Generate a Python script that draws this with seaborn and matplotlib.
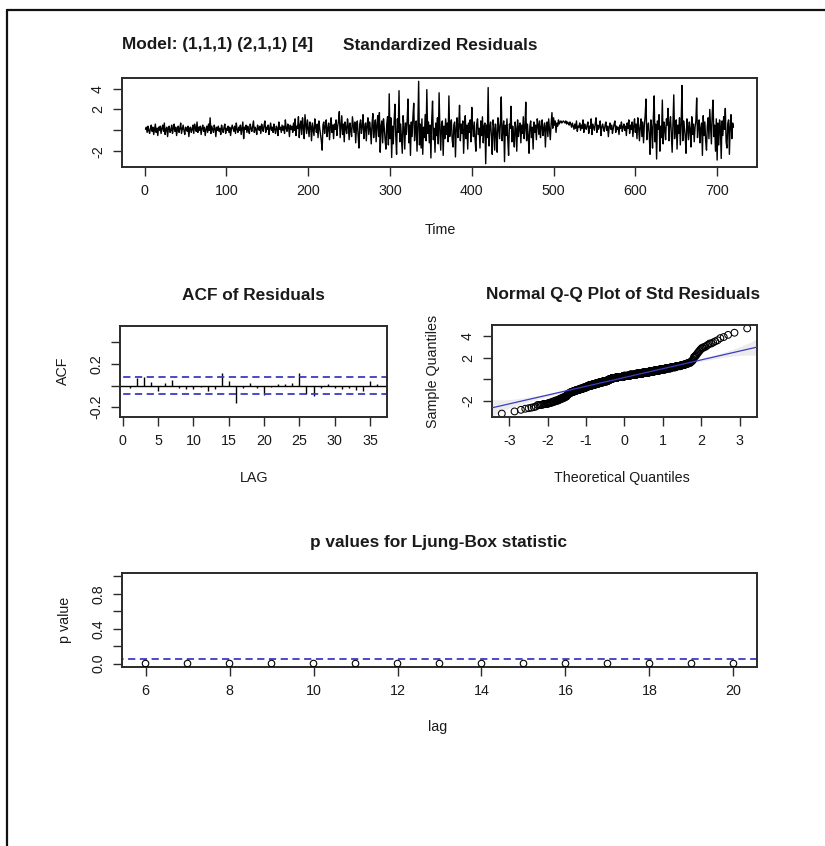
import numpy as np
import pandas as pd
import matplotlib
matplotlib.use("Agg")
import matplotlib.pyplot as plt
import seaborn as sns
from matplotlib.lines import Line2D
from statistics import NormalDist

# ---------------- data ----------------
# standardized residuals, t = 1..720, in five stretches
resid_quiet = [
    0.1, 0.3, -0.2, 0.4, 0.0, -0.3, 0.2, 0.5, -0.1, 0.3, -0.4, 0.1, 0.6, -0.2, 0.2, -0.5, 0.3, 0.0, 0.4, -0.3,
    0.2, 0.5, -0.1, 0.7, -0.4, 0.1, 0.3, -0.6, 0.2, 0.4, -0.2, 0.0, 0.5, -0.3, 0.2, 0.6, -0.1, 0.3, -0.5, 0.1,
    0.4, -0.2, 0.2, 0.7, -0.3, 0.1, 0.5, 0.0, -0.4, 0.3, 0.2, -0.1, 0.4, -0.6, 0.2, 0.3, -0.2, 0.1, 0.5, -0.3,
    0.6, 0.2, -0.1, 0.8, -0.2, 0.3, 0.0, 0.4, -0.4, 0.2, 0.5, -0.1, 0.3, -0.5, 0.1, 0.4, -0.2, 0.6, 0.0, 1.2,
    -0.3, 0.4, 0.1, -0.2, 0.5, 0.2, -0.6, 0.3, 0.0, 0.4, -0.1, 0.2, -0.4, 0.5, 0.1, -0.2, 0.3, 0.6, -0.3, 0.2,
    0.0, 0.4, -0.2, 0.3, -0.5, 0.1, 0.5, 0.2, -0.1, 0.4, -0.3, 0.7, 0.1, -0.2, 0.3, 0.0, 0.5, -0.4, 0.2, 0.8,
    -0.8, 0.3, 0.1, 0.5, -0.2, 0.4, 0.0, -0.3, 0.6, 0.2, -0.1, 0.4, 0.9, -0.2, 0.3, 0.1, -0.4, 0.5, 0.2, 0.0,
    0.4, -0.3, 0.6, 0.2, -0.1, 0.5, 0.9, -0.2, 0.3, 0.1, 0.5, -0.4, 0.2, 0.7, 0.0, 0.3, -0.2, 0.6, 0.1, -0.3,
    0.4, 0.2, -0.5, 0.8, 0.1, 0.3, -0.2, 0.5, 0.0, 0.4, -0.3, 1.0, 0.2, -0.1, 0.6, 0.3, -0.6, 0.5, 0.1, 0.4,
    -0.2, 0.7, 0.0, 1.1, -0.5, 0.4, 0.2, 1.3, -0.7, 0.5,
]
resid_rising = [
    0.9, -0.4, 1.2, 0.3, -0.8, 1.5, 0.6, -0.3, 1.0, 0.2, -0.6, 0.8, 0.4, -1.0, 0.7, 0.1, -0.5, 1.1, 0.3, -0.2,
    0.6, -0.7, 0.9, 0.2, -0.4, -1.0, -1.9, 0.5, 0.8, -0.3, 0.4, 1.0, -0.6, 0.2, 0.7, -0.9, 0.3, 1.2, -0.2, 0.5,
    -0.8, 0.6, 0.1, 1.0, -0.5, 0.4, 0.9, 1.8, -0.7, 0.3, 1.4, -0.4, 0.6, -1.1, 0.8, 0.2, -0.3, 1.1, 0.4, -0.9,
    0.7, 0.0, -0.6, 1.3, 0.5, -0.2, 0.8, -1.2, 0.3, 0.9, -0.5, -1.7, 0.6, 1.0, -0.3, 0.4, 1.5, -0.8, 0.2, 0.7,
    -1.0, 0.5, 1.2, -0.4, 0.8, 0.1, -1.3, 0.6, 1.6, -0.7, 0.3, 1.0, -1.1, 0.5, 1.4, -0.6, 1.7, -2.1, 0.4, 0.9,
    -1.2, 1.1, 0.2, -0.9, -1.8, 0.6, 1.3, -1.4,
]
resid_volatile = [
    3.5, -0.8, 1.2, -2.6, 0.4, -1.3, 0.9, 2.5, -0.5, -2.3, 1.1, -0.2, 3.8, -1.1, 0.6, -0.9, -2.2, 1.4, 0.3, -1.8,
    0.7, -0.4, 1.0, 3.0, -1.2, 0.5, -2.4, 0.8, -0.6, 1.3, 2.6, -1.0, 0.2, 0.9, -2.0, 0.4, 4.7, -1.4, 0.6, -1.7,
    1.1, -2.3, 0.3, -0.7, 1.5, -1.0, 3.9, -0.3, 0.8, -1.2, 0.5, -2.65, 1.0, 2.8, -0.9, 0.2, -2.1, 0.7, -0.5, 1.2,
    -1.3, 3.6, 0.1, -1.9, 0.6, 0.9, -2.4, 0.4, -0.8, 1.1, -0.4, 0.7, -1.1, 3.3, -0.6, 0.3, 1.0, -0.9, -1.6, 0.5,
    0.8, -2.55, 0.2, 1.2, -0.7, 0.4, 2.4, -1.0, 0.6, -0.3, 0.9, -2.2, 0.1, 1.4, -0.8, 0.5, -1.8, 0.7, -0.2, 1.0,
    -1.1, 2.2, 0.3, -0.6, 0.8, -0.9, -2.0, 0.6, 1.1, -0.4, 0.2, -1.7, 0.9, -0.5, 1.3, -1.2, 0.4, 0.7, -3.2, 0.5,
    -0.7, 4.1, -1.5, 0.3, 0.8, -0.6, -2.3, 1.0, 0.2, -1.9, 0.6, -0.3, -2.1, 1.2, 0.4, -0.8, 0.7, 3.2, -1.0, 0.1,
    0.9, -3.0, 0.5, -0.5, 1.1, -0.9, -2.4, 0.6, 0.2, 2.3, -1.1, 0.4, -0.4, -1.6, 0.8, 0.1, -2.0, 1.0, -0.6, 0.3,
    0.7, -1.2, 0.5, -0.3, 1.3, -0.8, 0.2, 2.7, -1.0, 0.6, -0.5, -2.2, 0.4, 0.9, -0.7, 0.3, -1.8, 0.8, -0.2, 0.5,
    -0.9, 1.1,
]
resid_calm = [
    0.6, -0.4, 0.9, -0.7, 0.3, 1.0, -0.5, 0.2, 0.7, -1.6, 0.4, 0.8, -0.6, 1.1, 0.1, -0.9, 0.6, 1.7, 0.2, 1.2,
    0.5, 0.9, -0.2, 0.7, 0.4, 1.0, 0.6, 0.8, 0.9, 0.7, 0.8, 0.9, 0.8, 0.7, 0.9, 0.6, 0.8, 0.7, 0.5, 0.8,
    0.6, 0.3, 0.7, 0.4, 0.1, 0.6, 0.2, 0.9, -0.1, 0.4, 0.3, 0.7, 0.0, 0.5, 0.2, 1.0, -0.2, 0.6, 0.3, 0.1,
    0.5, 0.8, -0.3, 0.4, 0.2, 1.1, -0.4, 0.6, 0.3, 0.0, 0.7, 1.2, -0.2, 0.5, 0.1, 0.4, 0.9, -0.5, 0.3, 0.6,
    0.2, -0.1, 0.5, 0.8, 0.0, 0.4, -0.6, 0.3, 0.7, 0.1, 0.5, -0.3, 0.2, 0.6, 0.9, -0.2, 0.4, 0.1, 0.3, -0.4,
    0.5, 0.2, 0.8, -0.1, 0.3, 0.6, 0.0, 0.4, -0.5, 0.7, 0.2, 1.0, -0.3, 0.5, 0.1, 0.8, -0.6, 0.4, 1.1, -0.2,
    0.6, -0.8, 1.2, 0.3, -1.0,
]
resid_late = [
    0.4, 1.1, -0.6, 0.8, -1.2, 0.5, 1.4, 3.0, -0.9, 0.2, 0.7, -0.4, -2.3, 1.0, 0.3, -1.7, 1.2, 3.3, -1.1, 0.6,
    -2.75, 0.9, 0.1, 1.5, -2.0, 0.4, -0.7, 2.9, -1.3, 0.8, 0.2, -0.9, 1.1, 0.5, 2.1, -1.0, 0.6, 1.3, -0.5, -2.1,
    0.7, 3.4, -0.8, 0.3, 1.0, -1.8, 0.5, -0.3, 1.2, -1.4, 0.6, 4.3, -1.0, 0.9, 0.2, -0.6, -2.2, 1.1, 0.4, -0.9,
    0.8, 0.1, -1.6, 1.3, -0.4, 0.6, -1.1, 0.3, 0.9, 3.1, -0.7, 0.5, 1.0, -1.2, 0.2, 0.7, -2.4, 1.4, -0.5, 0.8,
    -1.0, -1.9, 0.4, 1.2, -0.8, 2.0, 0.3, -1.3, 1.6, 2.9, -0.6, 0.5, -2.0, 1.1, -2.85, 0.7, -1.4, 1.0, 0.2, -2.7,
    0.9, -0.5, 1.3, 0.1, 2.1, -1.1, -1.7, 0.6, 1.0, -2.3, 0.4, 1.5, -0.8, 0.7, 0.3,
]

acf_lags = list(range(1, 37))
acf_vals = [-0.02, 0.07, 0.08, 0.03, -0.05, 0.02, 0.055, -0.02, -0.03, -0.03, -0.01, -0.05,
            -0.03, 0.12, 0.04, -0.16, -0.02, 0.02, -0.02, -0.085, -0.01, 0.01, 0.01, 0.02,
            0.12, -0.08, -0.095, -0.02, 0.01, -0.02, -0.03, -0.02, -0.04, -0.05, 0.04, 0.015]

lb_lags = list(range(6, 21))
lb_pvals = [0.0, 0.0, 0.0, 0.0, 0.0, 0.0, 0.0, 0.0, 0.0, 0.0, 0.0, 0.0, 0.0, 0.0, 0.0]

n_obs = 720
# ----------------------------------------------------------------

resid = np.array(resid_quiet + resid_rising + resid_volatile + resid_calm + resid_late)
time_idx = np.arange(1, len(resid) + 1)

sns.set_theme(style="white")
plt.rcParams['font.family'] = ['Liberation Sans', 'DejaVu Sans']
plt.rcParams['axes.unicode_minus'] = False

W, H = 825, 846
fig = plt.figure(figsize=(W / 100, H / 100), dpi=100)
TXT = '#1a1a1a'
BLUE = '#3b3bc4'
FS = 10.3
TFS = 12.4


def ax_px(x0, y0, x1, y1):
    return fig.add_axes([x0 / W, 1 - y1 / H, (x1 - x0) / W, (y1 - y0) / H])


def ftext(x, y, s, **kw):
    kw.setdefault('color', TXT)
    kw.setdefault('ha', 'center')
    kw.setdefault('va', 'center')
    fig.text(x / W, 1 - y / H, s, **kw)


def rlim(lo, hi):
    r = hi - lo
    return lo - 0.04 * r, hi + 0.04 * r


def style(ax, xt, xl, yt, yl):
    ax.set_xlabel('')
    ax.set_ylabel('')
    ax.grid(False)
    for s in ax.spines.values():
        s.set_visible(True)
        s.set_color('#2a2a2a')
        s.set_linewidth(1.4)
    ax.set_xticks(xt)
    ax.set_xticklabels(xl)
    ax.set_yticks(yt)
    ax.set_yticklabels(yl)
    ax.tick_params(bottom=True, left=True, direction='out', length=6.2, width=1.0,
                   color='#2a2a2a', labelsize=FS, labelcolor=TXT, pad=6)
    for lbl in ax.get_yticklabels():
        lbl.set_rotation(90)
        lbl.set_va('center')
        lbl.set_ha('right')


# frame of the screenshot
fig.add_artist(Line2D([7 / W, 1], [1 - 10 / H, 1 - 10 / H], transform=fig.transFigure,
                      color='#111111', lw=1.6))
fig.add_artist(Line2D([7 / W, 7 / W], [1 - 10 / H, 0], transform=fig.transFigure,
                      color='#111111', lw=1.6))

# ---- standardized residuals ----
ax1 = ax_px(122, 78, 757, 167)
sns.lineplot(x=time_idx, y=resid, ax=ax1, color='black', linewidth=1.0, estimator=None)
ax1.set_xlim(*rlim(time_idx.min(), time_idx.max()))
ax1.set_ylim(*rlim(resid.min(), resid.max()))
style(ax1, [0, 100, 200, 300, 400, 500, 600, 700],
      ['0', '100', '200', '300', '400', '500', '600', '700'],
      [-2, 0, 2, 4], ['-2', '', '2', '4'])
ftext(122, 45, 'Model: (1,1,1) (2,1,1) [4]', ha='left', fontsize=TFS, fontweight='bold')
ftext(440, 45, 'Standardized Residuals', fontsize=TFS, fontweight='bold')
ftext(440, 230, 'Time', fontsize=FS)

# ---- ACF ----
ax2 = ax_px(120, 326, 387, 417)
acf_df = pd.DataFrame({'LAG': acf_lags, 'ACF': acf_vals})
ax2.vlines(acf_df['LAG'], 0, acf_df['ACF'], color='black', lw=1.0)
sns.lineplot(x=[-5, 45], y=[0, 0], ax=ax2, color='black', lw=1.0)
L = 2 / np.sqrt(n_obs)
for v in (L, -L):
    sns.lineplot(x=[-5, 45], y=[v, v], ax=ax2, color=BLUE, lw=1.3,
                 linestyle=(0, (4, 2.5)))
ax2.set_xlim(*rlim(min(acf_lags), max(acf_lags)))
ax2.set_ylim(*rlim(min(acf_vals) - 0.1, max(acf_vals) + 0.4))
style(ax2, [0, 5, 10, 15, 20, 25, 30, 35], ['0', '5', '10', '15', '20', '25', '30', '35'],
      [-0.2, 0.0, 0.2, 0.4], ['-0.2', '', '0.2', ''])
ftext(253, 295, 'ACF of Residuals', fontsize=TFS, fontweight='bold')
ftext(254, 478, 'LAG', fontsize=FS)
ftext(63, 371, 'ACF', fontsize=FS, rotation=90)

# ---- Normal Q-Q ----
ax3 = ax_px(492, 325, 757, 417)
nd = NormalDist()
n = len(resid)
probs = (np.arange(1, n + 1) - 0.5) / n
theo = np.array([nd.inv_cdf(p) for p in probs])
samp = np.sort(resid)
q1, q3 = np.percentile(resid, [25, 75])
z1, z3 = nd.inv_cdf(0.25), nd.inv_cdf(0.75)
slope = (q3 - q1) / (z3 - z1)
icpt = q1 - slope * z1
zg = np.linspace(-4, 4, 400)
Pg = np.array([nd.cdf(z) for z in zg])
dg = np.array([nd.pdf(z) for z in zg])
se = (slope / dg) * np.sqrt(Pg * (1 - Pg) / n)
fitv = icpt + slope * zg
ax3.fill_between(zg, fitv - 1.6 * se, fitv + 1.6 * se, color='#ececec', lw=0, zorder=0)
sns.scatterplot(x=theo, y=samp, ax=ax3, marker='o', s=24, facecolor='none',
                edgecolor='black', linewidth=0.75, zorder=2)
sns.lineplot(x=zg, y=fitv, ax=ax3, color=BLUE, lw=0.9, zorder=3)
ax3.set_xlim(*rlim(theo.min(), theo.max()))
ax3.set_ylim(*rlim(samp.min(), samp.max()))
style(ax3, [-3, -2, -1, 0, 1, 2, 3], ['-3', '-2', '-1', '0', '1', '2', '3'],
      [-2, 0, 2, 4], ['-2', '', '2', '4'])
ftext(623, 294, 'Normal Q-Q Plot of Std Residuals', fontsize=TFS, fontweight='bold')
ftext(622, 478, 'Theoretical Quantiles', fontsize=FS)
ftext(433, 371, 'Sample Quantiles', fontsize=FS, rotation=90)

# ---- Ljung-Box ----
ax4 = ax_px(122, 573, 757, 667)
sns.scatterplot(x=lb_lags, y=lb_pvals, ax=ax4, marker='o', s=22, facecolor='none',
                edgecolor='black', linewidth=0.8, zorder=3)
sns.lineplot(x=[0, 30], y=[0.05, 0.05], ax=ax4, color=BLUE, lw=1.3,
             linestyle=(0, (4, 2.5)))
ax4.set_xlim(*rlim(min(lb_lags), max(lb_lags)))
ax4.set_ylim(*rlim(0, 1))
style(ax4, [6, 8, 10, 12, 14, 16, 18, 20], ['6', '8', '10', '12', '14', '16', '18', '20'],
      [0.0, 0.2, 0.4, 0.6, 0.8, 1.0], ['0.0', '', '0.4', '', '0.8', ''])
ftext(438, 543, 'p values for Ljung-Box statistic', fontsize=TFS, fontweight='bold')
ftext(438, 727, 'lag', fontsize=FS)
ftext(65, 620, 'p value', fontsize=FS, rotation=90)

for ax in (ax1, ax2, ax3, ax4):
    leg = ax.get_legend()
    if leg is not None:
        leg.remove()

fig.savefig('out.png', dpi=100)
